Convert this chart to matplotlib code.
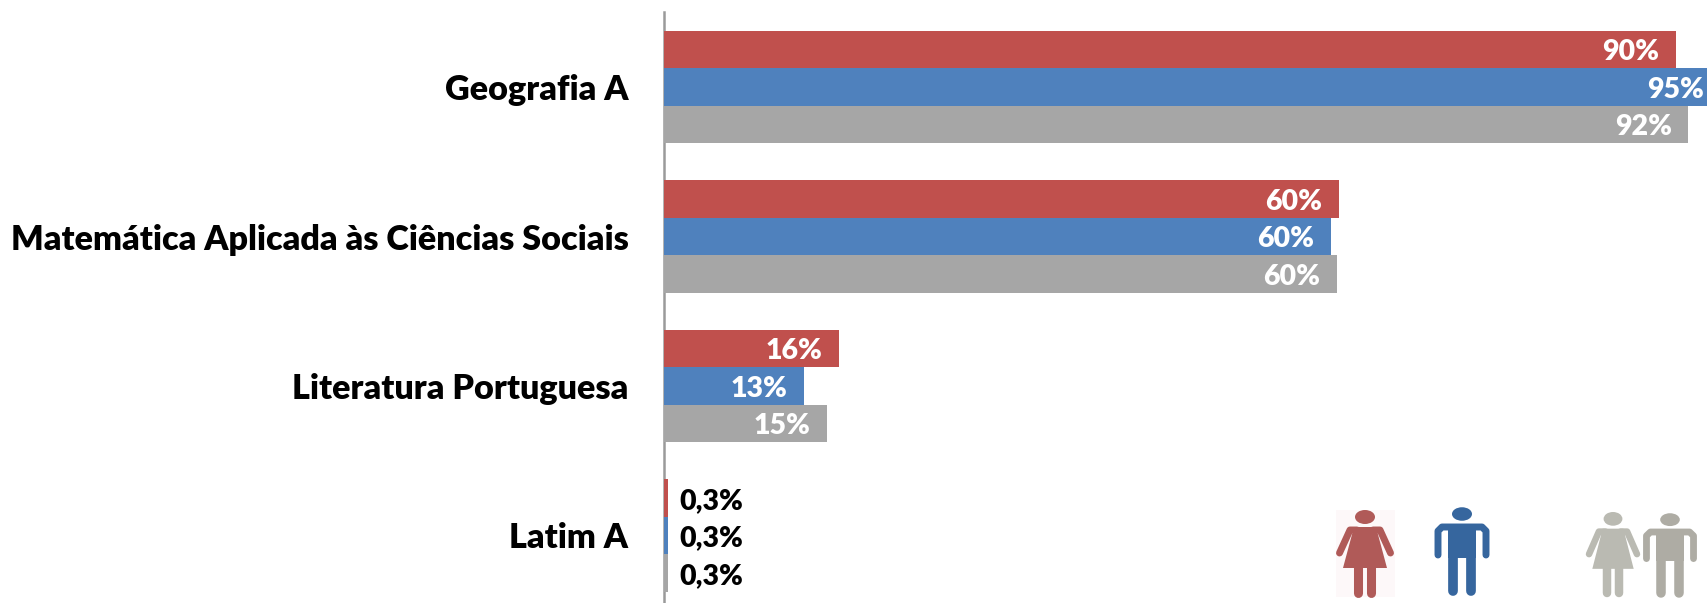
import matplotlib
matplotlib.use('Agg')
import matplotlib.pyplot as plt
from matplotlib.patches import Ellipse, Polygon, Rectangle

W, H = 1708, 603

categories = ['Geografia A', 'Matemática Aplicada às Ciências Sociais', 'Literatura Portuguesa', 'Latim A']
mulheres = [90, 60, 15.5, 0.3]
homens = [94, 59.3, 12.4, 0.3]
total = [91.1, 59.8, 14.5, 0.3]
mulheres_txt = ['90%', '60%', '16%', '0,3%']
homens_txt = ['95%', '60%', '13%', '0,3%']
total_txt = ['92%', '60%', '15%', '0,3%']

RED = '#C0504D'
BLUE = '#4F81BD'
GREY = '#A6A6A6'

plt.rcParams['font.family'] = ['Lato', 'DejaVu Sans']


def woman(ov, cx, top, color, sx=1.0, sy=1.0):
    def p(dx, dy):
        return cx + dx * sx, top + dy * sy

    ov.add_patch(Ellipse(p(0, 7), 20 * sx, 14 * sy, color=color, lw=0))
    # dress
    ov.add_patch(Polygon([p(-11, 17), p(11, 17), p(22, 58), p(-22, 58)], color=color, lw=0))
    for d in (-1, 1):
        # shoulder and arm
        pts = [p(d * 8, 20), p(d * 15, 20), p(d * 25.5, 43)]
        ov.plot([a[0] for a in pts], [a[1] for a in pts], color=color, lw=5 * sx,
                solid_capstyle='round', solid_joinstyle='round')
        # leg
        pts = [p(d * 6.5, 55), p(d * 6.5, 83)]
        ov.plot([a[0] for a in pts], [a[1] for a in pts], color=color, lw=6.5 * sx,
                solid_capstyle='round')


def man(ov, cx, top, color, sx=1.0, sy=1.0):
    def p(dx, dy):
        return cx + dx * sx, top + dy * sy

    ov.add_patch(Ellipse(p(0, 7), 20 * sx, 13.5 * sy, color=color, lw=0))
    # torso
    ov.add_patch(Polygon([p(-14, 18), p(14, 18), p(14, 51), p(-14, 51)], color=color, lw=0))
    # shoulders and arms
    pts = [p(-24, 48), p(-24, 24), p(-20, 20), p(20, 20), p(24, 24), p(24, 48)]
    ov.plot([a[0] for a in pts], [a[1] for a in pts], color=color, lw=5 * sx,
            solid_capstyle='round', solid_joinstyle='round')
    for d in (-1, 1):
        pts = [p(d * 8.7, 46), p(d * 8.7, 84)]
        ov.plot([a[0] for a in pts], [a[1] for a in pts], color=color, lw=7 * sx,
                solid_capstyle='round')


def main():
    fig = plt.figure(figsize=(W / 100, H / 100), dpi=100)
    ax = fig.add_axes([664.5 / W, 0, (W - 664.5) / W, (H - 12) / H])

    # 11.24 px per percentage point
    ax.set_xlim(0, (W - 664.5) / 11.24)
    ax.set_ylim((H - 87) / 149.5, -75 / 149.5)

    series = [(mulheres, mulheres_txt, RED, -0.25), (homens, homens_txt, BLUE, 0), (total, total_txt, GREY, 0.25)]
    for vals, txts, col, off in series:
        ys = [i + off for i in range(len(vals))]
        ax.barh(ys, vals, height=0.25, color=col, lw=0, zorder=3)
        for y, v, t in zip(ys, vals, txts):
            if v < 1:
                ax.annotate(t, (v, y), xytext=(8, -2), textcoords='offset points', va='center', ha='left',
                            fontsize=20.5, fontweight='heavy', color='black', zorder=4)
            else:
                ax.annotate(t, (v, y), xytext=(-12, -2), textcoords='offset points', va='center', ha='right',
                            fontsize=20.5, fontweight='heavy', color='white', annotation_clip=False, zorder=4)

    ax.set_xticks([])
    ax.set_yticks(range(len(categories)))
    ax.set_yticklabels(categories, fontsize=24.6, fontweight='heavy')
    ax.tick_params(axis='y', length=0, pad=26)
    for s in ['top', 'right', 'bottom']:
        ax.spines[s].set_visible(False)
    ax.spines['left'].set_color('#9A9A9A')
    ax.spines['left'].set_linewidth(1.8)

    # legend pictograms, drawn in pixel coordinates
    ov = fig.add_axes([0, 0, 1, 1], facecolor='none')
    ov.set_xlim(0, W)
    ov.set_ylim(H, 0)
    ov.axis('off')
    ov.add_patch(Rectangle((1336, 510), 59, 87, color='#FDF8F9', lw=0))
    woman(ov, 1365, 510, '#B05A58')
    man(ov, 1462, 507, '#36669E')
    woman(ov, 1613, 512, '#BABAB2', 0.94, 0.98)
    man(ov, 1670, 513, '#AEACA4', 0.98, 0.95)

    fig.savefig('out.png', dpi=100)


if __name__ == '__main__':
    main()
